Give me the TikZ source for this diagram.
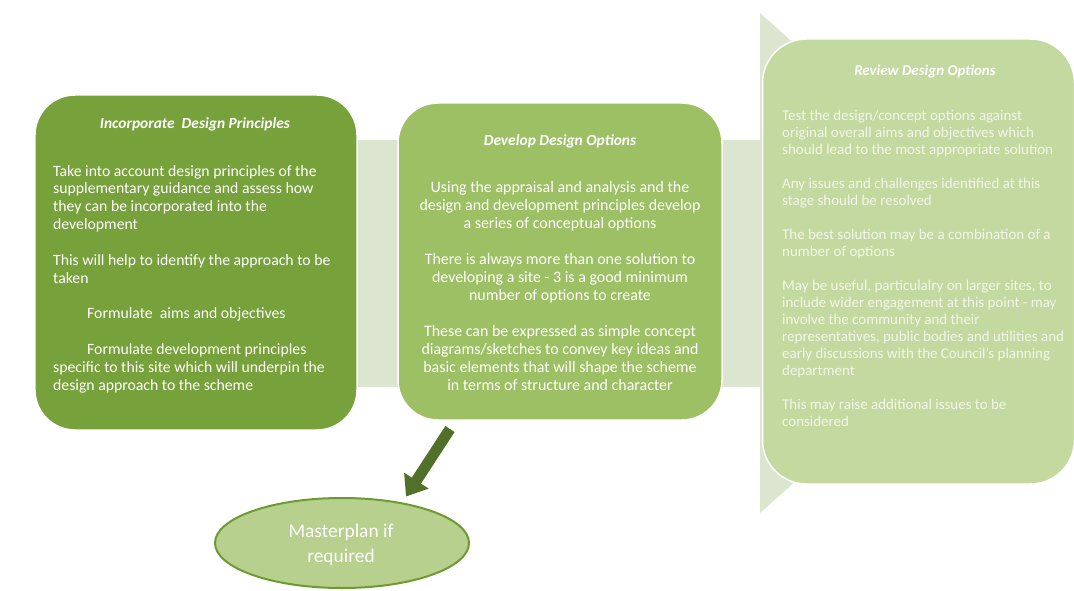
\documentclass[tikz,border=0pt]{standalone}
\usepackage{fontspec}
\setmainfont{Carlito}
\usetikzlibrary{shapes.geometric,arrows.meta}
\definecolor{cband}{HTML}{DCE5CF}
\definecolor{cone}{HTML}{77A13B}
\definecolor{ctwo}{HTML}{9DC064}
\definecolor{cthree}{HTML}{C3D9A0}
\definecolor{cell}{HTML}{B7D08D}
\definecolor{cellb}{HTML}{6E9A34}
\definecolor{carrow}{HTML}{51702A}
\definecolor{ctxtthree}{HTML}{F2F7EA}
\tikzset{
  stagebox/.style={draw=white, line width=1.5bp, rounded corners=40bp, inner sep=0pt},
  bodytxt/.style={text=white, inner sep=0pt, font=\fontsize{15.8}{17.9}\selectfont},
  bodythree/.style={text=ctxtthree, inner sep=0pt, font=\fontsize{15}{17.06}\selectfont},
  titletxt/.style={text=white, inner sep=0pt, font=\fontsize{15.5}{18}\selectfont\bfseries\itshape},
}
\begin{document}
\begin{tikzpicture}[x=1bp,y=-1bp]
\useasboundingbox (0,0) rectangle (1074,591);
% background process arrow
\fill[cband] (330,140) rectangle (762,387);
\fill[cband] (760,13) -- (1040,263) -- (760,513) -- cycle;
% boxes
\node[stagebox, fill=cone, minimum width=322bp, minimum height=335bp] (b1) at (196,262.5) {};
\node[stagebox, fill=ctwo, minimum width=324bp, minimum height=317bp] (b2) at (560,261.5) {};
\node[stagebox, fill=cthree, rounded corners=44bp, minimum width=312bp, minimum height=445bp] (b3) at (918.5,261.5) {};
% box 1 text
\node[titletxt] (t1) at (195,124) {Incorporate\ \ Design Principles};
\node[bodytxt, align=left, anchor=north west] (p1) at (53,165) {Take into account design principles of the\\
supplementary guidance and assess how\\
they can be incorporated into the\\
development\\[17.9bp]
This will help to identify the approach to be\\
taken\\[17.9bp]
\hspace*{34bp}Formulate\ \ aims and objectives\\[17.9bp]
\hspace*{34bp}Formulate development principles\\
specific to this site which will underpin the\\
design approach to the scheme};
% box 2 text
\node[titletxt] (t2) at (560,141) {Develop Design Options};
\node[bodytxt, font=\fontsize{16}{18.1}\selectfont, align=center, anchor=north] (p2) at (560,181) {Using the appraisal and analysis and the\\
design and development principles develop\\
a series of conceptual options\\[18.1bp]
There is always more than one solution to\\
developing a site - 3 is a good minimum\\
number of options to create\\[18.1bp]
These can be expressed as simple concept\\
diagrams/sketches to convey key ideas and\\
basic elements that will shape the scheme\\
in terms of structure and character};
% box 3 text
\node[titletxt, font=\fontsize{15}{18}\selectfont\bfseries\itshape] (t3) at (925,72) {Review Design Options};
\node[bodythree, align=left, anchor=north west] (p3) at (782,110) {Test the design/concept options against\\
original overall aims and objectives which\\
should lead to the most appropriate solution\\[17.06bp]
Any issues and challenges identified at this\\
stage should be resolved\\[17.06bp]
The best solution may be a combination of a\\
number of options\\[17.06bp]
May be useful, particulalry on larger sites, to\\
include wider engagement at this point - may\\
involve the community and their\\
representatives, public bodies and utilities and\\
early discussions with the Council's planning\\
department\\[17.06bp]
This may raise additional issues to be\\
considered};
% masterplan ellipse
\node[ellipse, draw=cellb, line width=2bp, fill=cell, minimum width=254bp, minimum height=90bp] (ell) at (342,543) {};
\node[text=white, align=center, inner sep=0pt, font=\fontsize{19.5}{25}\selectfont] (ellt) at (341,545) {Masterplan if\\required};
\coordinate (astart) at (450,429);
\draw[carrow, line width=11bp, -{Triangle[width=28bp,length=19bp]}, shorten >=7bp] (astart) -- (ell.34);
\end{tikzpicture}
\end{document}
